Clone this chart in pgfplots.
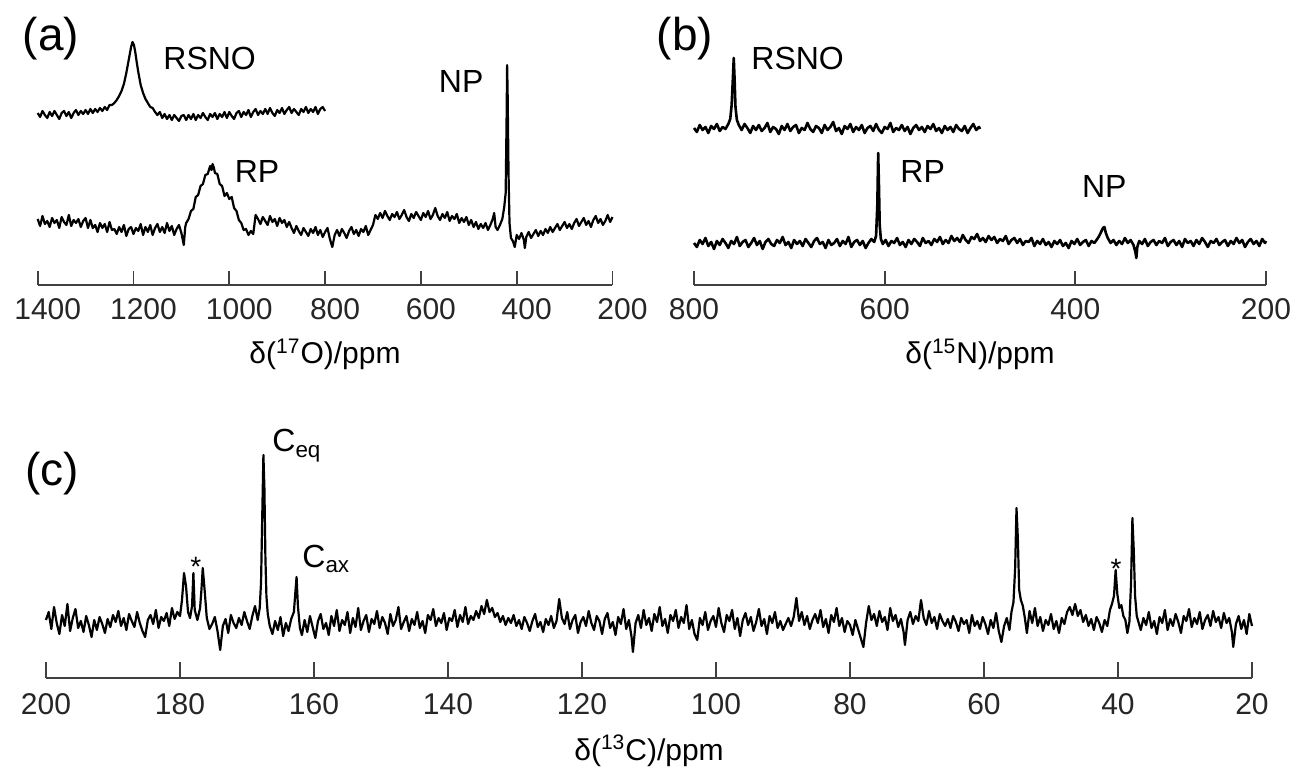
\documentclass[border=0pt]{standalone}
\usepackage{fontspec}
\setmainfont{Liberation Sans}
\usepackage{pgfplots}
\pgfplotsset{compat=1.18}

\pgfplotsset{
  nmr/.style={
    scale only axis, height=125pt, ymin=0, ymax=250,
    axis x line*=bottom, axis y line=none, x dir=reverse,
    clip=false, enlargelimits=false,
    tick align=inside, major tick length=7pt, minor tick num=0,
    axis line style={line width=0.9pt, black!75},
    every tick/.style={line width=0.9pt, black!75},
    ticklabel style={font=\fontsize{15}{15}\selectfont, text=black!85},
    /pgf/number format/assume math mode=true,
    /pgf/number format/1000 sep={},
  },
  spec/.style={black, line width=1.1pt, line join=round, mark=none},
}
\newcommand{\lab}{\fontsize{16}{16}\selectfont}
\newcommand{\axlab}{\fontsize{15}{15}\selectfont}

\begin{document}
\begin{tikzpicture}
\useasboundingbox (0,0) rectangle (649.5pt,385.5pt);

% (a) 17O
\begin{axis}[nmr, at={(18.85pt,243pt)}, anchor=south west, width=287.4pt,
  xmin=200, xmax=1400, xtick={200,400,...,1400},
  xticklabel style={yshift=-3pt, xshift=5pt}]
\addplot[spec] coordinates {
(1400,172) (1395,168) (1390,174) (1385,170) (1380,167) (1375,173) (1370,169) (1365,174) (1360,170) (1355,166)
(1350,172) (1345,174) (1340,169) (1335,173) (1330,167) (1325,172) (1320,175) (1315,170) (1310,174) (1305,171)
(1300,175) (1295,171) (1290,176) (1285,172) (1280,176) (1275,173) (1270,177) (1265,174) (1260,178) (1255,175)
(1250,180) (1245,180) (1240,182) (1235,185) (1230,189) (1225,194) (1220,201) (1215,212) (1210,225) (1205,238)
(1202,243) (1199,240) (1196,232) (1193,222) (1190,213) (1185,200) (1180,192) (1175,186) (1170,182) (1165,178)
(1160,177) (1155,173) (1150,170) (1145,173) (1140,167) (1135,171) (1130,166) (1125,170) (1120,165) (1115,170)
(1110,167) (1105,164) (1100,169) (1095,170) (1090,165) (1085,170) (1080,166) (1075,171) (1070,165) (1065,170)
(1060,167) (1055,172) (1050,168) (1045,165) (1040,171) (1035,168) (1030,172) (1025,166) (1020,171) (1015,168)
(1010,173) (1005,167) (1000,173) (995,169) (990,166) (985,172) (980,174) (975,168) (970,173) (965,170)
(960,175) (955,168) (950,173) (945,176) (940,170) (935,174) (930,171) (925,176) (920,171) (915,177)
(910,172) (905,169) (900,175) (895,172) (890,177) (885,171) (880,175) (875,178) (870,172) (865,176)
(860,173) (855,170) (850,176) (845,173) (840,178) (835,172) (830,176) (825,173) (820,178) (815,171)
(810,176) (805,178) (800,174)};
\addplot[spec] coordinates {
(1400,66) (1395,59) (1390,69) (1385,61) (1380,64) (1375,58) (1370,67) (1365,62) (1360,65) (1355,57)
(1350,68) (1345,63) (1340,60) (1335,70) (1330,59) (1325,65) (1320,62) (1315,66) (1310,58) (1305,64)
(1300,67) (1295,57) (1290,65) (1285,57) (1280,60) (1275,53) (1270,62) (1265,57) (1260,61) (1255,53)
(1250,63) (1245,55) (1240,56) (1235,51) (1230,58) (1225,53) (1220,60) (1215,49) (1210,56) (1205,58)
(1200,51) (1195,57) (1190,54) (1185,61) (1180,50) (1175,58) (1170,53) (1165,60) (1160,50) (1155,57)
(1150,61) (1145,53) (1140,58) (1135,52) (1130,62) (1125,54) (1120,59) (1115,50) (1110,56) (1105,60)
(1100,52) (1095,40) (1092,58) (1090,62) (1085,66) (1080,74) (1075,76) (1070,88) (1065,90) (1060,99)
(1055,101) (1050,110) (1045,111) (1040,119) (1037,115) (1035,121) (1032,117) (1030,112) (1025,111) (1020,101)
(1015,99) (1010,89) (1005,92) (1000,86) (995,88) (990,77) (985,74) (980,65) (975,62) (970,55)
(965,56) (960,50) (955,54) (950,51) (945,70) (940,66) (935,61) (930,68) (925,64) (920,60)
(915,69) (910,63) (905,66) (900,59) (895,67) (890,62) (885,65) (880,58) (875,63) (870,57)
(865,52) (860,59) (855,54) (850,50) (845,57) (840,53) (835,49) (830,56) (825,52) (820,58)
(815,50) (810,55) (805,48) (800,53) (795,57) (790,46) (785,38) (780,50) (775,55) (770,49)
(765,56) (760,52) (755,47) (750,54) (745,58) (740,51) (735,55) (730,49) (725,56) (720,53)
(715,59) (710,50) (705,55) (700,60) (695,70) (690,66) (685,72) (680,67) (675,74) (670,69)
(665,65) (660,71) (655,68) (650,73) (645,66) (640,70) (635,75) (630,68) (625,64) (620,71)
(615,67) (610,73) (605,69) (600,65) (595,72) (590,68) (585,74) (580,66) (575,70) (570,77)
(565,69) (560,65) (555,71) (550,67) (545,73) (540,64) (535,69) (530,66) (525,71) (520,62)
(515,67) (510,63) (505,68) (500,60) (495,65) (490,58) (485,63) (480,56) (475,61) (470,57)
(465,62) (460,55) (455,60) (450,66) (447,72) (444,58) (440,55) (435,60) (430,66) (426,78)
(423,92) (421,170) (420,220) (419,195) (417,110) (415,62) (412,47) (408,44) (404,38) (400,50)
(395,46) (390,52) (385,45) (383,37) (380,48) (375,53) (370,47) (365,51) (360,55) (355,49)
(350,54) (345,50) (340,56) (335,52) (330,58) (325,53) (320,57) (315,61) (310,55) (305,59)
(300,63) (295,57) (290,61) (285,56) (280,62) (275,66) (270,59) (265,63) (260,67) (255,60)
(250,64) (245,58) (240,65) (235,69) (230,62) (225,66) (220,60) (215,64) (210,70) (205,63)
(200,68)};
\end{axis}

% (b) 15N
\begin{axis}[nmr, at={(347pt,243pt)}, anchor=south west, width=286pt,
  xmin=200, xmax=800, xtick={200,400,600,800},
  xticklabel style={yshift=-3pt}]
\addplot[spec, line width=1.3pt] coordinates {
(800,157) (797,153) (794,160) (791,155) (788,158) (785,152) (782,159) (779,156) (776,161) (773,154)
(770,158) (767,156) (764,161) (762,166) (760.5,180) (759.3,205) (758.3,227) (757.4,205) (756.5,178) (755,165)
(753,160) (750,155) (747,161) (744,157) (741,152) (738,159) (735,155) (732,160) (729,154) (726,157)
(723,162) (720,153) (717,158) (714,156) (711,151) (708,159) (705,155) (702,161) (699,154) (696,158)
(693,160) (690,152) (687,157) (684,155) (681,162) (678,156) (675,153) (672,159) (669,157) (666,152)
(663,160) (660,155) (657,158) (654,163) (651,154) (648,157) (645,151) (642,159) (639,156) (636,161)
(633,153) (630,158) (627,155) (624,160) (621,152) (618,157) (615,159) (612,154) (609,161) (606,155)
(603,152) (600,158) (597,156) (594,162) (591,153) (588,157) (585,155) (582,160) (579,154) (576,158)
(573,151) (570,157) (567,160) (564,155) (561,158) (558,153) (555,159) (552,156) (549,161) (546,154)
(543,157) (540,152) (537,159) (534,155) (531,158) (528,153) (525,160) (522,156) (519,154) (516,159)
(513,152) (510,157) (507,161) (504,155) (501,158) (500,156)};
\addplot[spec, line width=1.3pt] coordinates {
(800,42) (797,38) (794,45) (791,41) (788,47) (785,39) (782,43) (779,36) (776,44) (773,40)
(770,46) (767,42) (764,37) (761,44) (758,41) (755,48) (752,39) (749,43) (746,45) (743,38)
(740,42) (737,47) (734,40) (731,44) (728,36) (725,43) (722,46) (719,41) (716,39) (713,45)
(710,42) (707,48) (704,40) (701,43) (698,37) (695,45) (692,41) (689,44) (686,39) (683,46)
(680,42) (677,38) (674,44) (671,47) (668,41) (665,43) (662,37) (659,45) (656,40) (653,42)
(650,46) (647,39) (644,44) (641,41) (638,48) (635,38) (632,43) (629,45) (626,40) (623,44)
(620,37) (617,42) (614,46) (611,43) (609,49) (607.7,80) (606.8,132) (606,100) (605.2,60) (604,46)
(602,41) (599,45) (596,39) (593,44) (590,42) (587,47) (584,40) (581,43) (578,38) (575,45)
(572,41) (569,46) (566,43) (563,39) (560,47) (557,42) (554,44) (551,40) (548,46) (545,43)
(542,48) (539,41) (536,45) (533,42) (530,49) (527,44) (524,47) (521,43) (518,50) (515,45)
(512,42) (509,48) (506,46) (503,51) (500,44) (497,47) (494,43) (491,49) (488,45) (485,48)
(482,42) (479,46) (476,44) (473,49) (470,41) (467,45) (464,47) (461,42) (458,46) (455,40)
(452,44) (449,43) (446,47) (443,39) (440,44) (437,41) (434,46) (431,40) (428,43) (425,38)
(422,44) (419,41) (416,45) (413,39) (410,42) (407,37) (404,44) (401,41) (398,46) (395,40)
(392,43) (389,45) (386,39) (383,44) (380,42) (377,46) (375,49) (373,53) (371,57) (369.5,58)
(368,52) (366,47) (363,42) (360,45) (357,40) (354,44) (351,41) (348,47) (345,42) (342,45)
(339,40) (337,33) (336,27) (335,38) (333,44) (330,41) (327,46) (324,39) (321,43) (318,45)
(315,40) (312,44) (309,42) (306,47) (303,39) (300,43) (297,45) (294,40) (291,44) (288,38)
(285,46) (282,42) (279,44) (276,39) (273,45) (270,41) (267,47) (264,43) (261,38) (258,44)
(255,42) (252,46) (249,40) (246,43) (243,45) (240,39) (237,44) (234,41) (231,47) (228,42)
(225,45) (222,38) (219,43) (216,46) (213,41) (210,44) (207,39) (204,46) (201,42) (200,44)};
\end{axis}

% (c) 13C
\begin{axis}[nmr, at={(23pt,46.5pt)}, anchor=south west, width=603pt,
  xmin=20, xmax=200, xtick={20,40,...,200}, major tick length=8pt,
  xticklabel style={yshift=-4pt}]
\addplot[spec] coordinates {
(200.0,58) (199.6,66) (199.2,49) (198.8,71) (198.4,55) (198.0,44) (197.6,63) (197.2,52) (196.8,74) (196.4,47)
(196.0,60) (195.6,69) (195.2,50) (194.8,57) (194.4,46) (194.0,62) (193.6,53) (193.2,41) (192.8,58) (192.4,48)
(192.0,61) (191.6,54) (191.2,45) (190.8,59) (190.4,51) (190.0,63) (189.6,56) (189.2,67) (188.8,52) (188.4,60)
(188.0,48) (187.6,64) (187.2,57) (186.8,51) (186.4,66) (186.0,55) (185.6,47) (185.2,41) (184.8,58) (184.4,63)
(184.0,54) (183.6,68) (183.2,50) (182.8,61) (182.4,57) (182.0,65) (181.6,52) (181.2,70) (180.8,59) (180.4,66)
(180.0,62) (179.7,78) (179.4,105) (179.1,92) (178.8,66) (178.5,60) (178.2,72) (178.0,105) (177.8,68) (177.4,58)
(177.0,70) (176.8,88) (176.6,110) (176.3,86) (176.0,60) (175.6,49) (175.2,54) (174.8,61) (174.4,47) (174.0,28)
(173.6,52) (173.2,59) (172.8,45) (172.4,63) (172.0,55) (171.6,50) (171.2,60) (170.8,53) (170.4,66) (170.0,57)
(169.6,49) (169.2,62) (168.8,72) (168.4,58) (168.1,70) (167.9,96) (167.7,170) (167.55,223) (167.4,190) (167.25,120)
(167.1,82) (166.9,64) (166.6,52) (166.2,44) (165.8,57) (165.4,48) (165.0,61) (164.6,42) (164.2,55) (163.8,47)
(163.4,59) (163.0,66) (162.8,84) (162.6,101) (162.4,72) (162.1,50) (161.8,43) (161.4,58) (161.0,46) (160.6,62)
(160.2,51) (159.8,40) (159.4,57) (159.0,64) (158.6,49) (158.2,55) (157.8,43) (157.4,62) (157.0,52) (156.6,68)
(156.2,47) (155.8,58) (155.4,53) (155.0,66) (154.6,45) (154.2,60) (153.8,51) (153.4,70) (153.0,48) (152.6,57)
(152.2,63) (151.8,46) (151.4,59) (151.0,54) (150.6,67) (150.2,50) (149.8,61) (149.4,55) (149.0,44) (148.6,64)
(148.2,52) (147.8,58) (147.4,71) (147.0,49) (146.6,56) (146.2,62) (145.8,47) (145.4,59) (145.0,53) (144.6,66)
(144.2,50) (143.8,57) (143.4,45) (143.0,63) (142.6,58) (142.2,69) (141.8,52) (141.4,60) (141.0,55) (140.6,65)
(140.2,48) (139.8,60) (139.4,57) (139.0,68) (138.6,51) (138.2,63) (137.8,56) (137.4,71) (137.0,54) (136.6,62)
(136.2,58) (135.8,67) (135.4,60) (135.0,72) (134.6,64) (134.2,78) (133.8,66) (133.4,70) (133.0,61) (132.6,65)
(132.2,56) (131.8,62) (131.4,53) (131.0,60) (130.6,55) (130.2,63) (129.8,52) (129.4,58) (129.0,49) (128.6,61)
(128.2,55) (127.8,47) (127.4,57) (127.0,64) (126.6,51) (126.2,56) (125.8,46) (125.4,59) (125.0,53) (124.6,62)
(124.2,50) (123.8,57) (123.4,79) (123.0,60) (122.6,54) (122.2,66) (121.8,49) (121.4,58) (121.0,63) (120.6,45)
(120.2,56) (119.8,61) (119.4,52) (119.0,67) (118.6,55) (118.2,48) (117.8,62) (117.4,57) (117.0,44) (116.6,59)
(116.2,65) (115.8,50) (115.4,56) (115.0,43) (114.6,61) (114.2,54) (113.8,69) (113.4,49) (113.0,58) (112.6,41)
(112.4,26) (112.0,55) (111.6,63) (111.2,50) (110.8,68) (110.4,53) (110.0,60) (109.6,47) (109.2,64) (108.8,56)
(108.4,71) (108.0,52) (107.6,59) (107.2,45) (106.8,63) (106.4,57) (106.0,68) (105.6,50) (105.2,61) (104.8,55)
(104.4,73) (104.0,49) (103.6,58) (103.2,44) (102.8,38) (102.4,60) (102.0,53) (101.6,66) (101.2,48) (100.8,57)
(100.4,62) (100.0,51) (99.6,70) (99.2,55) (98.8,46) (98.4,63) (98.0,57) (97.6,68) (97.2,49) (96.8,60)
(96.4,42) (96.0,58) (95.6,65) (95.2,53) (94.8,61) (94.4,47) (94.0,56) (93.6,69) (93.2,52) (92.8,59)
(92.4,44) (92.0,62) (91.6,55) (91.2,66) (90.8,50) (90.4,57) (90.0,48) (89.6,54) (89.2,60) (88.8,52)
(88.4,61) (88.0,80) (87.6,57) (87.2,66) (86.8,53) (86.4,62) (86.0,49) (85.6,58) (85.2,64) (84.8,55)
(84.4,68) (84.0,51) (83.6,59) (83.2,45) (82.8,63) (82.4,56) (82.0,70) (81.6,52) (81.2,60) (80.8,46)
(80.4,57) (80.0,53) (79.6,43) (79.2,58) (78.8,49) (78.4,40) (78.0,31) (77.6,55) (77.2,72) (76.8,58)
(76.4,64) (76.0,52) (75.6,67) (75.2,56) (74.8,61) (74.4,48) (74.0,70) (73.6,57) (73.2,63) (72.8,51)
(72.4,59) (72.0,46) (71.8,33) (71.4,58) (71.0,66) (70.6,54) (70.2,62) (69.8,57) (69.4,78) (69.0,60)
(68.6,53) (68.2,67) (67.8,55) (67.4,61) (67.0,49) (66.6,64) (66.2,57) (65.8,52) (65.4,59) (65.0,50)
(64.6,62) (64.2,56) (63.8,47) (63.4,60) (63.0,54) (62.6,58) (62.2,45) (61.8,63) (61.4,52) (61.0,57)
(60.6,49) (60.2,61) (59.8,54) (59.4,44) (59.0,58) (58.6,50) (58.2,65) (57.8,47) (57.4,36) (57.0,52)
(56.6,60) (56.2,48) (55.9,66) (55.6,76) (55.35,110) (55.15,170) (54.95,140) (54.75,88) (54.5,78) (54.2,72)
(53.9,60) (53.6,45) (53.2,67) (52.8,55) (52.4,70) (52.0,52) (51.6,61) (51.2,47) (50.8,58) (50.4,53)
(50.0,64) (49.6,49) (49.2,57) (48.8,45) (48.4,60) (48.0,54) (47.6,66) (47.2,71) (46.8,63) (46.4,74)
(46.0,62) (45.6,68) (45.2,56) (44.8,63) (44.4,52) (44.0,59) (43.6,48) (43.2,61) (42.8,55) (42.4,46)
(42.0,58) (41.6,52) (41.2,68) (40.9,74) (40.6,82) (40.35,108) (40.1,84) (39.8,70) (39.5,73) (39.2,62)
(38.9,58) (38.6,45) (38.3,56) (38.05,95) (37.85,160) (37.65,128) (37.45,82) (37.2,62) (36.9,55) (36.6,48)
(36.2,60) (35.8,53) (35.4,66) (35.0,50) (34.6,57) (34.2,44) (33.8,61) (33.4,55) (33.0,68) (32.6,48)
(32.2,59) (31.8,52) (31.4,64) (31.0,56) (30.6,45) (30.2,62) (29.8,57) (29.4,69) (29.0,51) (28.6,60)
(28.2,54) (27.8,66) (27.4,49) (27.0,58) (26.6,63) (26.2,52) (25.8,67) (25.4,56) (25.0,61) (24.6,50)
(24.2,65) (23.8,55) (23.4,60) (23.0,46) (22.8,31) (22.4,54) (22.0,62) (21.6,49) (21.2,58) (20.8,44)
(20.4,64) (20.0,52)};
\end{axis}

% panel letters
\node[font=\fontsize{23}{23}\selectfont] at (25.5pt,366.25pt) {(a)};
\node[font=\fontsize{23}{23}\selectfont] at (342.5pt,366.25pt) {(b)};
\node[font=\fontsize{23}{23}\selectfont] at (26.2pt,148.5pt) {(c)};

% peak labels
\node[font=\lab, anchor=base west, inner sep=0pt] at (81.5pt,350.5pt) {RSNO};
\node[font=\lab, anchor=base west, inner sep=0pt] at (117.2pt,294pt) {RP};
\node[font=\lab, anchor=base west, inner sep=0pt] at (219.25pt,339pt) {NP};
\node[font=\lab, anchor=base west, inner sep=0pt] at (375.5pt,350.5pt) {RSNO};
\node[font=\lab, anchor=base west, inner sep=0pt] at (450pt,294pt) {RP};
\node[font=\lab, anchor=base west, inner sep=0pt] at (540.85pt,286.5pt) {NP};
\node[font=\lab, anchor=base west, inner sep=0pt] at (136pt,159.5pt) {C\textsubscript{eq}};
\node[font=\lab, anchor=base west, inner sep=0pt] at (151pt,102pt) {C\textsubscript{ax}};
\node[font=\fontsize{14}{14}\selectfont, anchor=base, inner sep=0pt] at (97.85pt,97.25pt) {*};
\node[font=\fontsize{14}{14}\selectfont, anchor=base, inner sep=0pt] at (558pt,96.25pt) {*};

% axis titles
\node[font=\axlab, anchor=base, inner sep=0pt] at (162.5pt,203.5pt) {δ(\textsuperscript{17}O)/ppm};
\node[font=\axlab, anchor=base, inner sep=0pt] at (490pt,203.5pt) {δ(\textsuperscript{15}N)/ppm};
\node[font=\axlab, anchor=base, inner sep=0pt] at (324.5pt,5.5pt) {δ(\textsuperscript{13}C)/ppm};
\end{tikzpicture}
\end{document}
